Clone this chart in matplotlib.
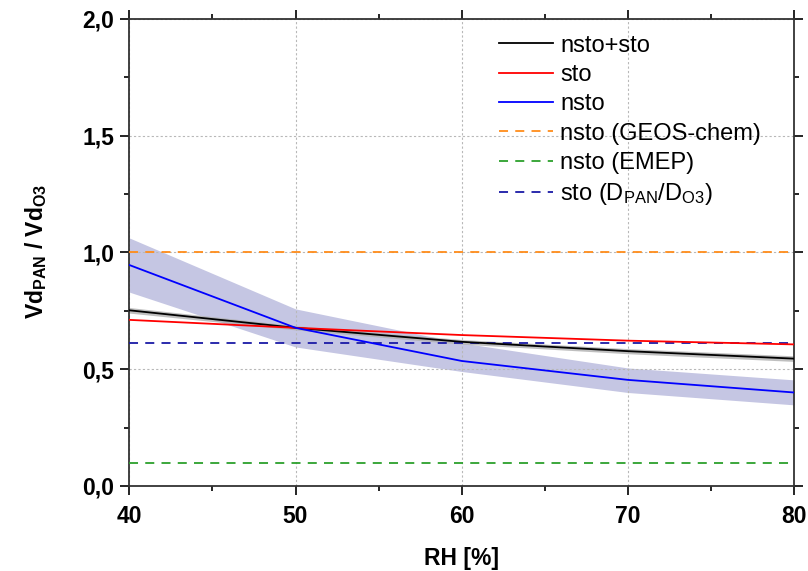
import numpy as np
import matplotlib
matplotlib.use('Agg')
import matplotlib.pyplot as plt
from matplotlib.ticker import FuncFormatter, MultipleLocator

plt.rcParams['font.family'] = ['Liberation Sans', 'DejaVu Sans']
plt.rcParams['mathtext.fontset'] = 'custom'
plt.rcParams['mathtext.rm'] = 'Liberation Sans'
plt.rcParams['mathtext.bf'] = 'Liberation Sans:bold'
plt.rcParams['mathtext.default'] = 'regular'

# data
rh = [40, 50, 60, 70, 80]
total = [0.752, 0.677, 0.617, 0.577, 0.545]
total_lo = [0.740, 0.668, 0.607, 0.566, 0.533]
total_hi = [0.764, 0.686, 0.627, 0.588, 0.557]
sto = [0.711, 0.677, 0.646, 0.622, 0.606]
nsto = [0.946, 0.677, 0.535, 0.454, 0.400]
nsto_lo = [0.830, 0.595, 0.490, 0.400, 0.347]
nsto_hi = [1.062, 0.758, 0.612, 0.505, 0.454]
geos = 1.0
emep = 0.1
dratio = 0.614

fig = plt.figure(figsize=(8.08, 5.71), dpi=100)
ax = fig.add_axes([0.16, 0.149, 0.823, 0.818])

ax.fill_between(rh, nsto_lo, nsto_hi, color='#c5c6e3', lw=0, zorder=1)
ax.fill_between(rh, total_lo, total_hi, color='#b0b0b0', lw=0, alpha=0.8, zorder=2)
ax.plot(rh, total, color='black', lw=1.3, label='nsto+sto', zorder=4)
ax.plot(rh, sto, color='red', lw=1.3, label='sto', zorder=4)
ax.plot(rh, nsto, color='blue', lw=1.3, label='nsto', zorder=4)
ax.plot([40, 80], [geos, geos], color='#ff8c1a', lw=1.3, ls=(0, (5, 4)), label='nsto (GEOS-chem)', zorder=3)
ax.plot([40, 80], [emep, emep], color='#2ca02c', lw=1.3, ls=(0, (5, 4)), label='nsto (EMEP)', zorder=3)
ax.plot([40, 80], [dratio, dratio], color='#1a1aa6', lw=1.3, ls=(0, (5, 4)),
        label='sto (D$_{PAN}$/D$_{O3}$)', zorder=3)

ax.set_xlim(40, 80)
ax.set_ylim(0, 2.0)
ax.xaxis.set_major_locator(MultipleLocator(10))
ax.xaxis.set_minor_locator(MultipleLocator(5))
ax.yaxis.set_major_locator(MultipleLocator(0.5))
ax.yaxis.set_minor_locator(MultipleLocator(0.25))
ax.yaxis.set_major_formatter(FuncFormatter(lambda v, p: ('%.1f' % v).replace('.', ',')))
ax.grid(True, which='major', color='#b8b8b8', ls=(0, (2, 2)), lw=0.8)
ax.tick_params(which='major', direction='out', length=6.5, width=1.2, labelsize=16.5,
               top=True, right=True)
ax.tick_params(axis='x', which='major', pad=7.5)
ax.tick_params(axis='y', which='major', pad=4.5)
ax.tick_params(which='minor', direction='out', length=3.5, width=1.2, top=True, right=True)
for lbl in ax.get_xticklabels() + ax.get_yticklabels():
    lbl.set_fontweight('bold')
for s in ax.spines.values():
    s.set_linewidth(1.3)
    s.set_color('#333333')

ax.set_xlabel('RH [%]', fontsize=16.5, fontweight='bold')
ax.xaxis.set_label_coords(0.5, -0.13)
ax.set_ylabel(r'Vd$_{PAN}$ / Vd$_{O3}$', fontsize=16.5, fontweight='bold')
ax.yaxis.set_label_coords(-0.121, 0.502)

ax.legend(loc='upper left', frameon=False, fontsize=17, handlelength=2.3,
          labelspacing=0.31, handletextpad=0.3, borderpad=0, borderaxespad=0,
          bbox_to_anchor=(0.556, 0.966))

fig.savefig('out.png', dpi=100)
